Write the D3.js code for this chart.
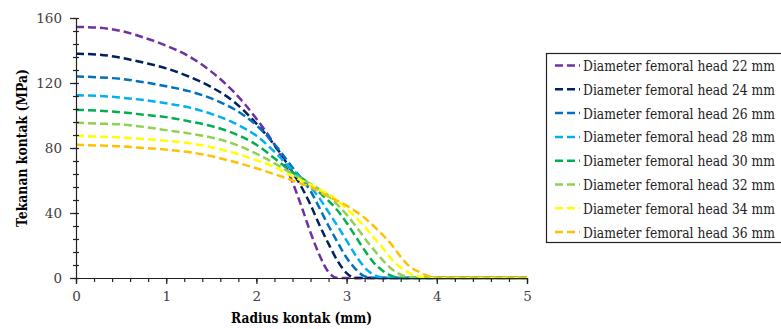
<!DOCTYPE html>
<html>
<head>
<meta charset="utf-8">
<script src="https://cdn.jsdelivr.net/npm/d3@7"></script>
<style>
  body { margin: 0; background: #fff; }
</style>
</head>
<body>
<script>
// radius grid (mm) shared by all series
var radius = [0, 0.25, 0.5, 0.75, 1, 1.25, 1.5, 1.75, 2, 2.25, 2.4, 2.5, 2.6, 2.7, 2.8, 2.9, 3, 3.1, 3.2, 3.3, 3.4, 3.5, 3.6, 3.7, 3.8, 3.9, 4, 5]

// contact pressure (MPa) per femoral head diameter
var p22 = [154.5, 154, 152, 148, 143, 136.5, 127, 114.5, 98, 77, 59, 44, 28, 14, 3.5, 0, 0, 0, 0, 0, 0, 0, 0, 0, 0, 0, 0, 0]
var p24 = [138, 137.5, 135.5, 132.5, 129, 124, 117.5, 108.5, 95, 78, 65, 56, 45, 32.5, 21, 10.5, 3, 0, 0, 0, 0, 0, 0, 0, 0, 0, 0, 0]
var p26 = [124, 123.5, 122.5, 120.5, 118, 115, 110.5, 104, 94, 79, 68, 61, 53.5, 43, 32, 22, 12.5, 5.5, 1, 0, 0, 0, 0, 0, 0, 0, 0, 0]
var p28 = [112.5, 112, 111, 109.5, 107.5, 105, 101, 95.5, 87.5, 75, 66.5, 61.5, 56, 49, 40.5, 32, 23, 14, 6.5, 2, 0.3, 0, 0, 0, 0, 0, 0, 0]
var p30 = [103.5, 103, 102, 100.5, 99, 96.5, 93.5, 89, 82, 71.5, 65, 61.5, 57.5, 52.5, 47.5, 41.5, 34, 25.5, 17, 9.5, 4.5, 1.3, 0, 0, 0, 0, 0, 0]
var p32 = [95.5, 95, 94.5, 93, 91, 89, 86.5, 82.5, 76.5, 69, 64, 61, 58, 54.5, 50.5, 45, 39, 32, 24.5, 17.5, 11, 5.5, 2, 0.4, 0, 0, 0, 0]
var p34 = [87.5, 87, 86.5, 85.5, 84.5, 83, 80.5, 77, 72.5, 67, 62.5, 60, 57.5, 54.5, 51.5, 47.5, 42.5, 37.5, 31.5, 25, 18.5, 11.5, 6.5, 3, 0.9, 0.1, 0, 0]
var p36 = [82, 81.5, 81, 80, 79, 77.5, 75, 71.5, 67.5, 63, 60, 58, 56, 53, 50, 47.5, 44.5, 41, 37, 32, 26.5, 20.5, 13, 7, 3.8, 1.3, 0, 0]

var labels = ["Diameter femoral head 22 mm", "Diameter femoral head 24 mm", "Diameter femoral head 26 mm",
  "Diameter femoral head 28 mm", "Diameter femoral head 30 mm", "Diameter femoral head 32 mm",
  "Diameter femoral head 34 mm", "Diameter femoral head 36 mm"]
var colors = ["#7030A0", "#002060", "#0070C0", "#00B0F0", "#00B050", "#92D050", "#FFFF00", "#FFC000"]
var seriesValues = [p22, p24, p26, p28, p30, p32, p34, p36]

var xTicks = [0, 1, 2, 3, 4, 5]
var yTicks = [0, 40, 80, 120, 160]

// only DejaVu Serif resolves as a serif face here, so it gets squeezed to Times widths
var serif = "'DejaVu Serif', 'Liberation Serif', serif"

var width = 781, height = 329
var margin = { top: 18, right: 254, bottom: 51, left: 76 }

var x = d3.scaleLinear().domain([0, 5]).range([margin.left, width - margin.right])
var y = d3.scaleLinear().domain([0, 160]).range([height - margin.bottom, margin.top])

var svg = d3.select("body").append("svg")
    .attr("width", width)
    .attr("height", height)

svg.append("rect").attr("width", width).attr("height", height).attr("fill", "#fff")

// lines
var line = d3.line()
    .x(d => x(d[0]))
    .y(d => y(d[1]))
    .curve(d3.curveMonotoneX)

var series = seriesValues.map((vals, i) => ({
  label: labels[i],
  color: colors[i],
  points: radius.map((r, j) => [r, vals[j]])
}))

svg.append("g")
  .selectAll("path")
  .data(series)
  .join("path")
    .attr("d", d => line(d.points))
    .attr("fill", "none")
    .attr("stroke", d => d.color)
    .attr("stroke-width", 2.5)
    .attr("stroke-dasharray", "8,4")

// axes
var axisColor = "#404040"

var xAxis = g => g
    .attr("transform", `translate(0,${y(0)})`)
    .call(d3.axisBottom(x).tickValues(xTicks).tickSize(6).tickPadding(7).tickFormat(d3.format("d")))
    .call(g => g.selectAll(".tick text").attr("font-size", 13.5).attr("fill", axisColor))

var xMinor = g => g
    .attr("transform", `translate(0,${y(0)})`)
    .call(d3.axisBottom(x).tickValues(d3.range(0, 5.001, 0.2)).tickSize(4).tickFormat(""))
    .call(g => g.select(".domain").remove())

var yAxis = g => g
    .attr("transform", `translate(${x(0)},0)`)
    .call(d3.axisLeft(y).tickValues(yTicks).tickSize(6).tickPadding(8))
    .call(g => g.selectAll(".tick text").attr("font-size", 13.5).attr("fill", axisColor))

var yMinor = g => g
    .attr("transform", `translate(${x(0)},0)`)
    .call(d3.axisLeft(y).tickValues(d3.range(0, 160.001, 8)).tickSize(0).tickFormat(""))
    .call(g => g.select(".domain").remove())
    .call(g => g.selectAll(".tick line").attr("x1", -3).attr("x2", 3))

svg.append("g").call(xMinor)
svg.append("g").call(yMinor)
svg.append("g").call(xAxis)
svg.append("g").call(yAxis)

svg.selectAll(".domain, .tick line").attr("stroke", "#222").attr("stroke-width", 1.2)

// axis titles
svg.append("text")
    .attr("x", (x(0) + x(5)) / 2)
    .attr("y", 323)
    .attr("text-anchor", "middle")
    .attr("font-weight", "bold")
    .attr("font-size", 14.5)
    .attr("textLength", 141)
    .attr("lengthAdjust", "spacingAndGlyphs")
    .text("Radius kontak (mm)")

svg.append("text")
    .attr("transform", `translate(27,${(y(0) + y(160)) / 2}) rotate(-90)`)
    .attr("text-anchor", "middle")
    .attr("font-weight", "bold")
    .attr("font-size", 14.5)
    .attr("textLength", 158)
    .attr("lengthAdjust", "spacingAndGlyphs")
    .text("Tekanan kontak (MPa)")

// legend
var legend = svg.append("g")
svg.append("rect")
    .attr("x", 546.5).attr("y", 53.5)
    .attr("width", 250).attr("height", 189)
    .attr("fill", "none")
    .attr("stroke", "#222")
    .attr("stroke-width", 1.2)

var item = legend.selectAll("g")
  .data(series)
  .join("g")
    .attr("transform", (d, i) => `translate(0,${65.5 + i * 23.8})`)

item.append("line")
    .attr("x1", 555).attr("x2", 580)
    .attr("stroke", d => d.color)
    .attr("stroke-width", 2.5)
    .attr("stroke-dasharray", "8,4")

item.append("text")
    .attr("x", 583)
    .attr("dy", "0.36em")
    .attr("font-size", 15)
    .attr("textLength", 192)
    .attr("lengthAdjust", "spacingAndGlyphs")
    .attr("fill", "#222")
    .text(d => d.label)

svg.selectAll("g").attr("font-family", null)
svg.selectAll("text").style("font-family", serif)
</script>
</body>
</html>
